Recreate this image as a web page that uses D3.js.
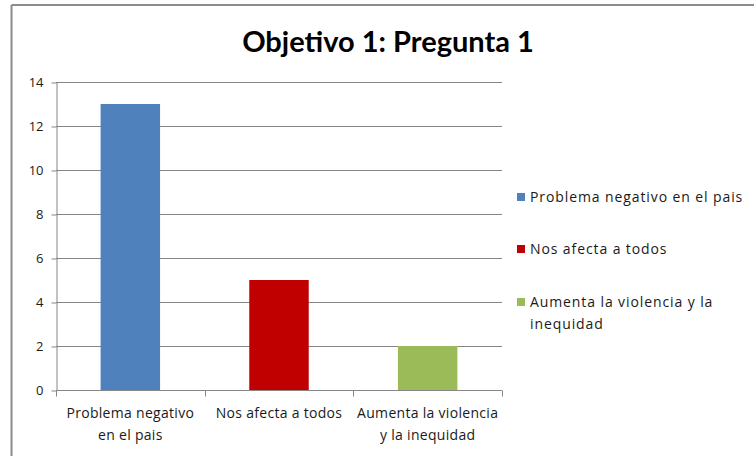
<!DOCTYPE html>
<meta charset="utf-8">
<style>
body { margin: 0; background: #fff; }
text { font-family: "Open Sans", Lato, sans-serif; fill: #1a1a1a; }
.grid line { stroke: #868686; stroke-width: 1px; }
.axis path, .axis line { stroke: #868686; }
</style>
<svg width="754" height="456"></svg>
<script src="https://d3js.org/d3.v7.min.js"></script>
<script>

var categories = ["Problema negativo en el pais", "Nos afecta a todos", "Aumenta la violencia y la inequidad"];
var values = [13, 5, 2];
var colors = ["#4F81BD", "#C00000", "#9BBB59"];
var tickValues = [0, 2, 4, 6, 8, 10, 12, 14];
var xLabels = [["Problema negativo", "en el pais"], ["Nos afecta a todos"], ["Aumenta la violencia", "y la inequidad"]];
var legendLabels = [["Problema negativo en el pais"], ["Nos afecta a todos"], ["Aumenta la violencia y la", "inequidad"]];

var svg = d3.select("svg");

// outer frame (only top and left visible in the crop)
svg.append("line").attr("x1", 11.5).attr("x2", 754).attr("y1", 5).attr("y2", 5)
    .attr("stroke", "#8c8c8c").attr("stroke-width", 2);
svg.append("line").attr("x1", 11.5).attr("x2", 11.5).attr("y1", 5).attr("y2", 456)
    .attr("stroke", "#8c8c8c").attr("stroke-width", 2);

svg.append("text")
    .attr("x", 388).attr("y", 52)
    .attr("text-anchor", "middle")
    .style("font-family", "Lato, sans-serif")
    .style("font-size", "29px").style("font-weight", "bold")
    .style("fill", "#000")
    .text("Objetivo 1: Pregunta 1");

var plotLeft = 56, plotRight = 502, plotTop = 82, plotBottom = 390;

var x = d3.scaleBand().domain(categories).range([plotLeft, plotRight]).paddingInner(0.6).paddingOuter(0.3);
var xTicks = d3.scaleBand().domain(categories).range([plotLeft, plotRight]);
var y = d3.scaleLinear().domain([0, 14]).range([plotBottom, plotTop]);

// gridlines
svg.append("g").attr("class", "grid")
  .selectAll("line").data(tickValues.filter(function(d) { return d > 0; }))
  .enter().append("line")
    .attr("x1", plotLeft).attr("x2", plotRight)
    .attr("y1", function(d) { return Math.round(y(d)) + 0.5; })
    .attr("y2", function(d) { return Math.round(y(d)) + 0.5; });

svg.selectAll(".bar").data(values).enter().append("rect")
    .attr("class", "bar")
    .attr("x", function(d, i) { return x(categories[i]); })
    .attr("width", x.bandwidth())
    .attr("y", function(d) { return y(d); })
    .attr("height", function(d) { return plotBottom - y(d); })
    .attr("fill", function(d, i) { return colors[i]; });

// y axis
var yAxis = svg.append("g").attr("class", "axis")
    .attr("transform", "translate(" + (plotLeft + 0.5) + ",0.5)")
    .call(d3.axisLeft(y).tickValues(tickValues).tickSize(5).tickPadding(8).tickSizeOuter(0));
yAxis.selectAll("text").style("font-family", "'Open Sans', sans-serif").style("font-size", "13px").style("fill", "#1a1a1a");

// x axis
var xAxisG = svg.append("g").attr("class", "axis")
    .attr("transform", "translate(0," + (plotBottom + 0.5) + ")");
xAxisG.append("line").attr("x1", plotLeft).attr("x2", plotRight).attr("y1", 0).attr("y2", 0);
var tickPos = categories.map(function(c) { return xTicks(c); }).concat([plotRight]);
xAxisG.selectAll(".xt").data(tickPos).enter().append("line")
    .attr("class", "xt")
    .attr("x1", function(d) { return Math.round(d) + 0.5; })
    .attr("x2", function(d) { return Math.round(d) + 0.5; })
    .attr("y1", 0).attr("y2", 6);

var xl = svg.append("g").selectAll("text").data(xLabels).enter().append("text")
    .attr("text-anchor", "middle")
    .attr("x", function(d, i) { return xTicks(categories[i]) + xTicks.bandwidth() / 2; })
    .attr("y", 418)
    .style("font-size", "14px")
    .style("letter-spacing", "0.3px");
xl.selectAll("tspan").data(function(d) { return d; }).enter().append("tspan")
    .attr("x", function() { return d3.select(this.parentNode).attr("x"); })
    .attr("dy", function(d, i) { return i === 0 ? 0 : 22; })
    .text(function(d) { return d; });

// legend
var legendY = [197, 249, 302];
var lg = svg.append("g").selectAll("g").data(legendLabels).enter().append("g")
    .attr("transform", function(d, i) { return "translate(517," + legendY[i] + ")"; });
lg.append("rect").attr("x", 0).attr("y", -4).attr("width", 8).attr("height", 8)
    .attr("fill", function(d, i) { return colors[i]; });
var lt = lg.append("text").attr("x", 13).attr("y", 5)
    .style("font-size", "14px")
    .style("letter-spacing", "0.9px");
lt.selectAll("tspan").data(function(d) { return d; }).enter().append("tspan")
    .attr("x", 13)
    .attr("dy", function(d, i) { return i === 0 ? 0 : 22; })
    .text(function(d) { return d; });

</script>
